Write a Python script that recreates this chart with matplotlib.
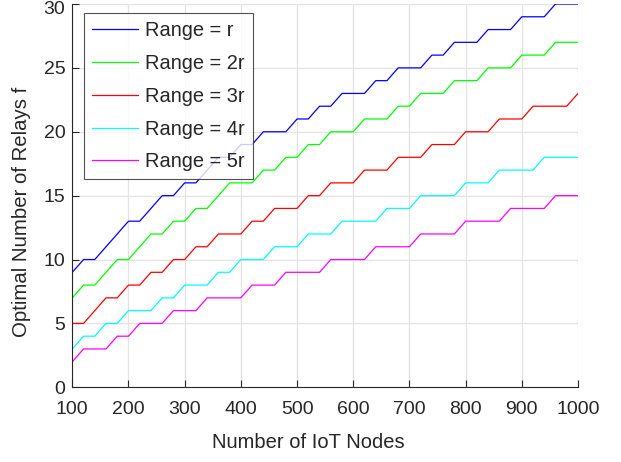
import matplotlib
matplotlib.use("Agg")
import matplotlib.pyplot as plt
import matplotlib.transforms as mtransforms
import numpy as np

plt.rcParams['font.family'] = ['Liberation Sans', 'DejaVu Sans']

nodes = list(range(100, 1001, 20))
range_r = [9, 10, 10, 11, 12, 13, 13, 14, 15, 15, 16, 16, 17, 18, 18, 19, 19, 20, 20, 20,
           21, 21, 22, 22, 23, 23, 23, 24, 24, 25, 25, 25, 26, 26, 27, 27, 27, 28, 28, 28,
           29, 29, 29, 30, 30, 30]
range_2r = [7, 8, 8, 9, 10, 10, 11, 12, 12, 13, 13, 14, 14, 15, 16, 16, 16, 17, 17, 18,
            18, 19, 19, 20, 20, 20, 21, 21, 21, 22, 22, 23, 23, 23, 24, 24, 24, 25, 25, 25,
            26, 26, 26, 27, 27, 27]
range_3r = [5, 5, 6, 7, 7, 8, 8, 9, 9, 10, 10, 11, 11, 12, 12, 12, 13, 13, 14, 14,
            14, 15, 15, 16, 16, 16, 17, 17, 17, 18, 18, 18, 19, 19, 19, 20, 20, 20, 21, 21,
            21, 22, 22, 22, 22, 23]
range_4r = [3, 4, 4, 5, 5, 6, 6, 6, 7, 7, 8, 8, 8, 9, 9, 10, 10, 10, 11, 11,
            11, 12, 12, 12, 13, 13, 13, 13, 14, 14, 14, 15, 15, 15, 15, 16, 16, 16, 17, 17,
            17, 17, 18, 18, 18, 18]
range_5r = [2, 3, 3, 3, 4, 4, 5, 5, 5, 6, 6, 6, 7, 7, 7, 7, 8, 8, 8, 9,
            9, 9, 9, 10, 10, 10, 10, 11, 11, 11, 11, 12, 12, 12, 12, 13, 13, 13, 13, 14,
            14, 14, 14, 15, 15, 15]

series = [range_r, range_2r, range_3r, range_4r, range_5r]
labels = ['Range = r', 'Range = 2r', 'Range = 3r', 'Range = 4r', 'Range = 5r']
colors = ['#0000ff', '#00ff00', '#ff0000', '#00ffff', '#ff00ff']
xticks = list(range(100, 1001, 100))
yticks = list(range(0, 31, 5))

fig = plt.figure(figsize=(6.21, 4.62), dpi=100)
ax = fig.add_axes([72.3 / 621, 1 - 387.3 / 462, 505.7 / 621, 383.3 / 462])

for s, lab, c in zip(series, labels, colors):
    ax.plot(nodes, s, color=c, lw=0.9, label=lab)

ax.set_xlim(100, 1000)
ax.set_ylim(0, 30)
ax.set_xticks(xticks)
ax.set_yticks(yticks)
ax.grid(True, color='#e3e3e3', lw=0.9)
ax.set_axisbelow(True)
for sp in ['top', 'right']:
    ax.spines[sp].set_visible(False)
for sp in ['left', 'bottom']:
    ax.spines[sp].set_color('#262626')
    ax.spines[sp].set_linewidth(0.8)
ax.tick_params(direction='in', length=5, width=0.8, colors='#262626', labelsize=14)
ax.tick_params(axis='x', pad=10)
ax.tick_params(axis='y', pad=5)

ax.set_xlabel('Number of IoT Nodes', fontsize=14.5, color='#262626', va='center')
ax.xaxis.set_label_coords((308 - 72.3) / 505.7, (387.3 - 442) / 383.3)
ax.set_ylabel('Optimal Number of Relays f', fontsize=14.7, color='#262626', va='center')
ax.yaxis.set_label_coords((21.7 - 72.3) / 505.7, (387.3 - 211.5) / 383.3)

leg = ax.legend(loc='upper left', bbox_to_anchor=(0.023, 0.976), fontsize=14.4,
                frameon=True, fancybox=False, edgecolor='#262626',
                handlelength=2.3, handletextpad=0.35, labelspacing=0.69,
                borderaxespad=0, borderpad=0.4)
leg.get_frame().set_linewidth(0.8)
for t in leg.get_texts():
    t.set_color('#262626')

fig.canvas.draw()
top_tick = ax.yaxis.get_major_ticks()[-1]
top_tick.label1.set_transform(top_tick.label1.get_transform() +
                              mtransforms.ScaledTranslation(0, -4 / 100, fig.dpi_scale_trans))

fig.savefig('out.png', dpi=100)
